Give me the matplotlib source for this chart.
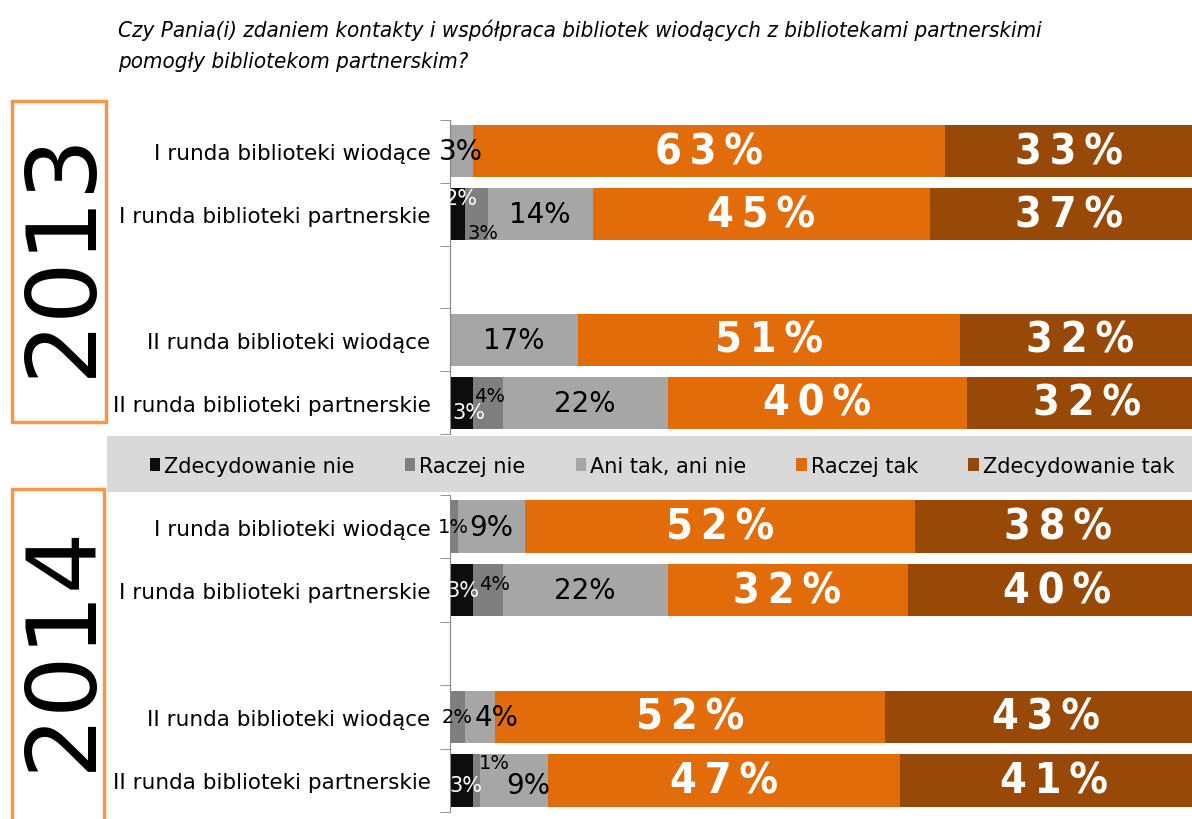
import numpy as np
import matplotlib
matplotlib.use('Agg')
import matplotlib.pyplot as plt
from matplotlib.patches import Rectangle, Patch

plt.rcParams['font.family'] = ['DejaVu Sans']

# dane
answers = ['Zdecydowanie nie', 'Raczej nie', 'Ani tak, ani nie', 'Raczej tak', 'Zdecydowanie tak']
colors = ['#0d0d0d', '#7f7f7f', '#a6a6a6', '#e36c0a', '#984807']
rows = ['I runda biblioteki wiodące', 'I runda biblioteki partnerskie', '',
        'II runda biblioteki wiodące', 'II runda biblioteki partnerskie']

# 2013
zdec_nie_2013 = [0, 2, 0, 0, 3]
raczej_nie_2013 = [0, 3, 0, 0, 4]
ani_2013 = [3, 14, 0, 17, 22]
raczej_tak_2013 = [63, 45, 0, 51, 40]
zdec_tak_2013 = [33, 37, 0, 32, 32]

# 2014
zdec_nie_2014 = [0, 3, 0, 0, 3]
raczej_nie_2014 = [1, 4, 0, 2, 1]
ani_2014 = [9, 22, 0, 4, 9]
raczej_tak_2014 = [52, 32, 0, 52, 47]
zdec_tak_2014 = [38, 40, 0, 43, 41]

title_1 = 'Czy Pania(i) zdaniem kontakty i współpraca bibliotek wiodących z bibliotekami partnerskimi'
title_2 = 'pomogły bibliotekom partnerskim?'

# przesuniecia etykiet (px), zeby sie nie nakladaly jak w Excelu
lbl_shift = {
    ('2013', 1, 0): (3, 16), ('2013', 1, 1): (7, -18),
    ('2013', 4, 0): (8, -9), ('2013', 4, 1): (2, 7),
    ('2014', 1, 0): (2, 0), ('2014', 1, 1): (7, 7),
    ('2014', 3, 2): (17, 0),
    ('2014', 4, 0): (5, -5), ('2014', 4, 1): (18, 18), ('2014', 4, 2): (14, -5),
}
lbl_size = [15, 14, 20]

W, H = 1192, 820
fig = plt.figure(figsize=(W / 100, H / 100), dpi=100)


def panel(ax, year, series):
    y = np.arange(len(rows))
    left = np.zeros(len(rows))
    for k, vals in enumerate(series):
        vals = np.array(vals, dtype=float)
        ax.barh(y, vals, left=left, height=0.83, color=colors[k], edgecolor='none')
        for i, v in enumerate(vals):
            if v <= 0:
                continue
            cx = left[i] + v / 2
            txt = f'{int(v)}%'
            if k >= 3:
                ax.annotate('\u2009'.join(txt), (cx, i), ha='center', va='center',
                            color='white', fontsize=31, fontweight='bold',
                            fontstretch='condensed')
            else:
                dx, dy = lbl_shift.get((year, i, k), (0, 0))
                ax.annotate(txt, (cx, i), xytext=(dx, dy), textcoords='offset pixels',
                            ha='center', va='center', fontsize=lbl_size[k],
                            color='white' if k == 0 else 'black',
                            annotation_clip=False)
        left += vals
    ax.set_xlim(0, 742 / 7.5)
    ax.set_ylim(len(rows) - 0.5, -0.5)
    ax.set_xticks([])
    ax.set_yticks(y)
    ax.set_yticklabels(rows, fontsize=15.5)
    ax.set_yticks(np.arange(-0.5, len(rows)), minor=True)
    ax.tick_params(axis='y', which='major', length=0, pad=14)
    ax.tick_params(axis='y', which='minor', length=7, color='#868686')
    for s in ['top', 'right', 'bottom']:
        ax.spines[s].set_visible(False)
    ax.spines['left'].set_color('#868686')


ax13 = fig.add_axes([450 / W, (H - 435) / H, 742 / W, 314 / H])
panel(ax13, '2013', [zdec_nie_2013, raczej_nie_2013, ani_2013, raczej_tak_2013, zdec_tak_2013])
ax14 = fig.add_axes([450 / W, (H - 813) / H, 742 / W, 317 / H])
panel(ax14, '2014', [zdec_nie_2014, raczej_nie_2014, ani_2014, raczej_tak_2014, zdec_tak_2014])

# pasek legendy
fig.patches.append(Rectangle((107 / W, (H - 493) / H), (W - 107) / W, 56 / H,
                             transform=fig.transFigure, facecolor='#d9d9d9',
                             edgecolor='none', zorder=0))
handles = [Patch(facecolor=c, edgecolor='none') for c in colors]
fig.legend(handles, answers, loc='center', bbox_to_anchor=(662 / W, 1 - 467 / H),
           ncol=5, frameon=False, fontsize=15, handlelength=0.5, handleheight=0.55,
           handletextpad=0.2, columnspacing=2.4)

# ramki z latami
fig.patches.append(Rectangle((12 / W, (H - 423) / H), 94 / W, 321 / H,
                             transform=fig.transFigure, facecolor='none',
                             edgecolor='#f79646', linewidth=2.5))
fig.patches.append(Rectangle((12 / W, -10 / H), 92 / W, 340 / H,
                             transform=fig.transFigure, facecolor='none',
                             edgecolor='#f79646', linewidth=2.5))
fig.text(63 / W, 1 - 253 / H, '2013', rotation=90, ha='center', va='center', fontsize=70)
fig.text(63 / W, 1 - 647 / H, '2014', rotation=90, ha='center', va='center', fontsize=70)

fig.text(118 / W, 1 - 30 / H, title_1, ha='left', va='center', fontsize=16,
         fontstyle='italic', fontstretch='condensed')
fig.text(118 / W, 1 - 62 / H, title_2, ha='left', va='center', fontsize=16,
         fontstyle='italic', fontstretch='condensed')

plt.savefig('out.png', dpi=100)
